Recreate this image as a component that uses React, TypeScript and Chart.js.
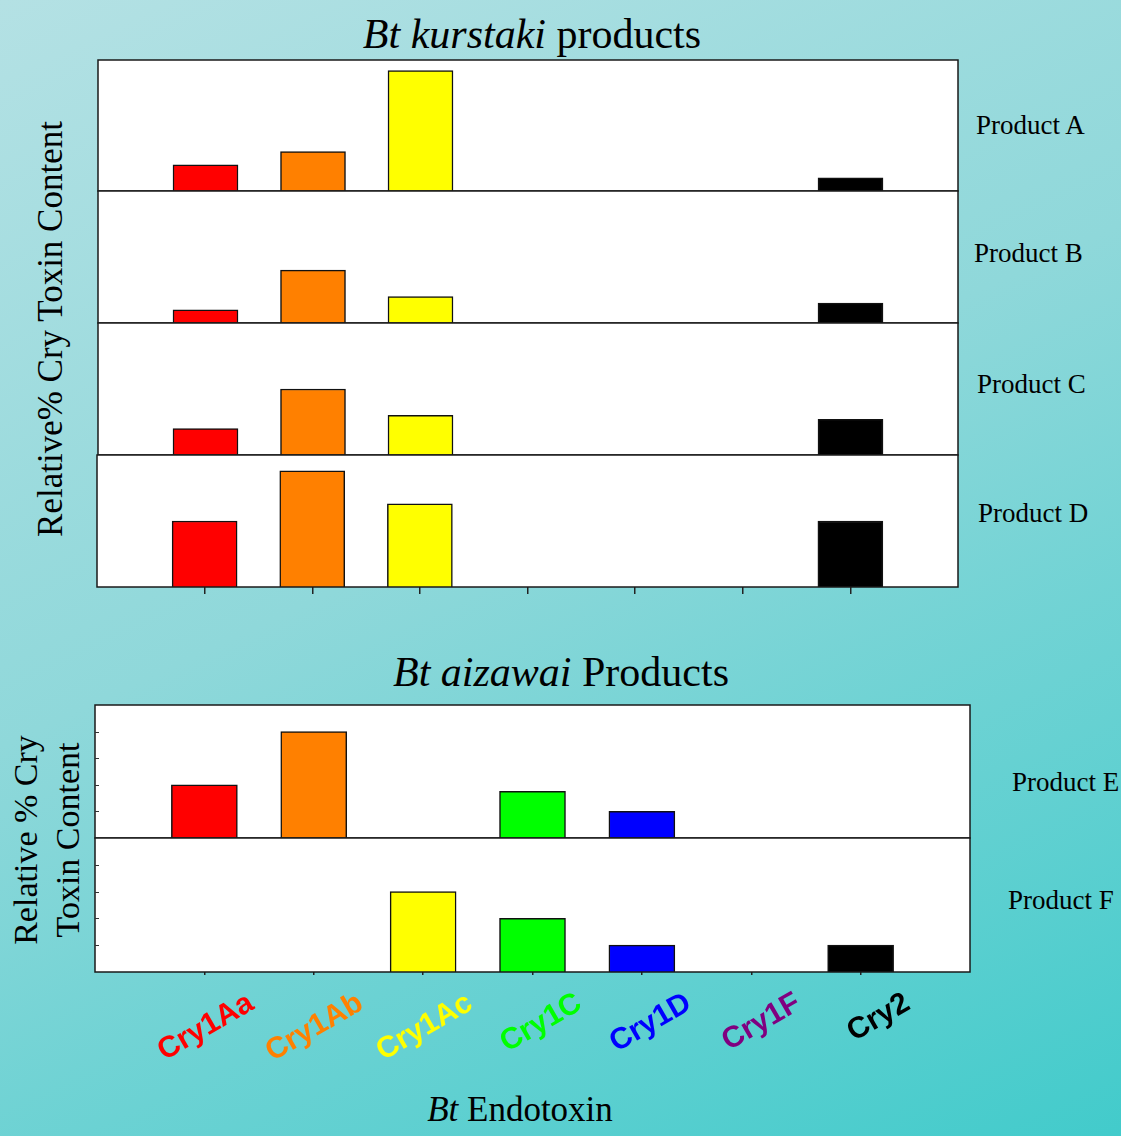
import React, { useEffect, useRef } from 'react';
import { Chart, registerables } from 'chart.js';

Chart.register(...registerables);

// ---- data ----
const toxins = ['Cry1Aa', 'Cry1Ab', 'Cry1Ac', 'Cry1C', 'Cry1D', 'Cry1F', 'Cry2'];
const toxinColors = ['#ff0000', '#ff8000', '#ffff00', '#00ff00', '#0000ff', '#800080', '#000000'];
const productA = [20, 30, 92, 0, 0, 0, 10];
const productB = [10, 40, 20, 0, 0, 0, 15];
const productC = [20, 50, 30, 0, 0, 0, 27];
const productD = [50, 88, 63, 0, 0, 0, 50];
const productE = [40, 80, 0, 35, 20, 0, 0];
const productF = [0, 0, 60, 40, 20, 0, 20];
const yTicks = [20, 40, 60, 80];

const SERIF = '"Liberation Serif", "Times New Roman", serif';
const SANS = '"Liberation Sans", Arial, sans-serif';

type PanelProps = {
  values: number[];
  left: number;
  top: number;
  width: number;
  height: number;
  tickLen: number;
  innerTicks: boolean;
  showLabels: boolean;
  barW: number;
};

function Panel({ values, left, top, width, height, tickLen, innerTicks, showLabels, barW }: PanelProps) {
  const ref = useRef<HTMLCanvasElement>(null);
  const M = 2;
  const extra = showLabels ? 120 : 0;
  const W = width + 2 * M;
  const H = height + 2 * M + tickLen + extra;

  useEffect(() => {
    if (!ref.current) return;
    const boxPlugin = {
      id: 'boxPlugin',
      beforeDraw(chart: any) {
        const { ctx, chartArea: a } = chart;
        ctx.save();
        ctx.fillStyle = '#ffffff';
        ctx.fillRect(a.left, a.top, a.right - a.left, a.bottom - a.top);
        ctx.restore();
      },
      afterDatasetsDraw(chart: any) {
        const { ctx, chartArea: a } = chart;
        ctx.save();
        ctx.strokeStyle = '#1a1a1a';
        ctx.lineWidth = 1.5;
        ctx.strokeRect(a.left, a.top, a.right - a.left, a.bottom - a.top);
        if (innerTicks) {
          const ys = chart.scales.y;
          ctx.lineWidth = 1;
          ctx.strokeStyle = '#333';
          yTicks.forEach((v) => {
            const py = Math.round(ys.getPixelForValue(v)) + 0.5;
            ctx.beginPath();
            ctx.moveTo(a.left, py);
            ctx.lineTo(a.left + 4, py);
            ctx.stroke();
          });
        }
        ctx.restore();
      },
      afterDraw(chart: any) {
        if (!showLabels) return;
        const { ctx, chartArea: a } = chart;
        const xs = chart.scales.x;
        ctx.save();
        ctx.font = `bold 30px ${SANS}`;
        ctx.textAlign = 'right';
        ctx.textBaseline = 'middle';
        toxins.forEach((t, i) => {
          const px = xs.getPixelForValue(i + 1);
          ctx.save();
          ctx.translate(px + 47, a.bottom + 29);
          ctx.rotate(-Math.PI / 6);
          ctx.fillStyle = toxinColors[i];
          ctx.fillText(t, 0, 0);
          ctx.restore();
        });
        ctx.restore();
      },
    };

    const chart = new Chart(ref.current, {
      type: 'bar',
      data: {
        datasets: [
          {
            data: values.map((v, i) => ({ x: i + 1, y: v > 0 ? v : null })) as any,
            backgroundColor: toxinColors,
            borderColor: '#111111',
            borderWidth: 1.5,
            borderSkipped: 'bottom',
            barThickness: barW,
          },
        ],
      },
      options: {
        responsive: false,
        animation: false,
        devicePixelRatio: 1,
        layout: { padding: { left: M, right: M, top: M, bottom: M + extra } },
        plugins: { legend: { display: false }, tooltip: { enabled: false }, title: { display: false } },
        scales: {
          x: {
            type: 'linear',
            min: 0,
            max: 8,
            offset: false,
            display: tickLen > 0,
            ticks: { display: false, stepSize: 1 },
            border: { display: false },
            grid: {
              offset: false,
              drawOnChartArea: false,
              drawTicks: true,
              tickLength: tickLen,
              lineWidth: 1.5,
              color: (c: any) =>
                c.tick && c.tick.value >= 1 && c.tick.value <= 7 ? '#222222' : 'rgba(0,0,0,0)',
            },
          },
          y: { min: 0, max: 100, display: false },
        },
      },
      plugins: [boxPlugin],
    });
    return () => chart.destroy();
  }, []);

  return (
    <canvas
      ref={ref}
      width={W}
      height={H}
      style={{ position: 'absolute', left: left - M, top: top - M, width: W, height: H }}
    />
  );
}

function Text({
  x,
  baseline,
  size,
  children,
  anchor = 'left',
}: {
  x: number;
  baseline: number;
  size: number;
  children: any;
  anchor?: 'left' | 'center';
}) {
  return (
    <div
      style={{
        position: 'absolute',
        left: x,
        top: baseline - 0.8375 * size,
        fontSize: size,
        lineHeight: 1,
        fontFamily: SERIF,
        color: '#000',
        whiteSpace: 'nowrap',
        transform: anchor === 'center' ? 'translateX(-50%)' : undefined,
      }}
    >
      {children}
    </div>
  );
}

export default function App() {
  return (
    <div
      style={{
        position: 'absolute',
        left: 0,
        top: 0,
        width: 1121,
        height: 1136,
        overflow: 'hidden',
        background: 'linear-gradient(155deg, #b4e1e4 0%, #8fd8da 45%, #42cbcb 100%)',
        fontFamily: SERIF,
      }}
    >
      <Text x={532} baseline={48} size={42} anchor="center">
        <i>Bt kurstaki</i> products
      </Text>
      <Text x={561} baseline={686} size={42} anchor="center">
        <i>Bt aizawai</i> Products
      </Text>
      <Text x={520} baseline={1121} size={35} anchor="center">
        <i>Bt</i> Endotoxin
      </Text>

      <div
        style={{
          position: 'absolute',
          left: 51,
          top: 329,
          fontSize: 35,
          lineHeight: 1.15,
          whiteSpace: 'nowrap',
          transform: 'translate(-50%, -50%) rotate(-90deg)',
          fontFamily: SERIF,
        }}
      >
        Relative% Cry Toxin Content
      </div>
      <div
        style={{
          position: 'absolute',
          left: 47,
          top: 840,
          fontSize: 34,
          lineHeight: '42px',
          textAlign: 'center',
          whiteSpace: 'nowrap',
          transform: 'translate(-50%, -50%) rotate(-90deg)',
          fontFamily: SERIF,
        }}
      >
        Relative % Cry
        <br />
        Toxin Content
      </div>

      <Text x={976} baseline={135} size={27}>Product A</Text>
      <Text x={974} baseline={263} size={27}>Product B</Text>
      <Text x={977} baseline={394} size={27}>Product C</Text>
      <Text x={978} baseline={523} size={27}>Product D</Text>
      <Text x={1012} baseline={792} size={27}>Product E</Text>
      <Text x={1008} baseline={910} size={27}>Product F</Text>

      <Panel values={productA} left={98} top={60} width={860} height={131} tickLen={0} innerTicks={false} showLabels={false} barW={65} />
      <Panel values={productB} left={98} top={191} width={860} height={132} tickLen={0} innerTicks={false} showLabels={false} barW={65} />
      <Panel values={productC} left={98} top={323} width={860} height={132} tickLen={0} innerTicks={false} showLabels={false} barW={65} />
      <Panel values={productD} left={97} top={455} width={861} height={132} tickLen={7} innerTicks={false} showLabels={false} barW={65} />
      <Panel values={productE} left={95} top={705} width={875} height={133} tickLen={0} innerTicks={true} showLabels={false} barW={66} />
      <Panel values={productF} left={95} top={838} width={875} height={134} tickLen={3} innerTicks={true} showLabels={true} barW={66} />
    </div>
  );
}
